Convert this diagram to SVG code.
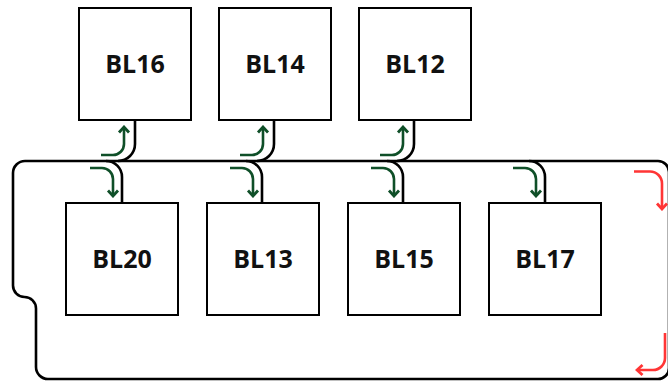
<svg xmlns="http://www.w3.org/2000/svg" width="668" height="381" viewBox="0 0 668 381">
  <style>
    .box { fill: #ffffff; stroke: #000000; stroke-width: 2; }
    .lbl { font-family: "Open Sans", "Noto Sans", "Liberation Sans", sans-serif; font-weight: bold; font-size: 25px; fill: #111111; text-anchor: middle; }
    .bus { fill: none; stroke: #000000; stroke-width: 2.6; }
    .go { fill: none; stroke: #0f4f28; stroke-width: 2.6; marker-end: url(#headG); }
    .back { fill: none; stroke: #ff3535; stroke-width: 2.6; marker-end: url(#headR); }
  </style>
  <defs>
    <marker id="headG" markerUnits="userSpaceOnUse" viewBox="-9 -7 11 14" markerWidth="11" markerHeight="14" refX="0" refY="0" orient="auto">
      <path d="M -5.5 -5 L 0 0 L -5.5 5" fill="none" stroke="#0f4f28" stroke-width="2.8"/>
    </marker>
    <marker id="headR" markerUnits="userSpaceOnUse" viewBox="-9 -7 11 14" markerWidth="11" markerHeight="14" refX="0" refY="0" orient="auto">
      <path d="M -5.5 -5 L 0 0 L -5.5 5" fill="none" stroke="#ff3535" stroke-width="2.8"/>
    </marker>
  </defs>

  <g id="connectors">
    <!-- ring bus -->
    <path class="bus" d="M 25 161 H 658 A 11 11 0 0 1 669 172 V 368 A 11 11 0 0 1 658 379 H 48 A 12 12 0 0 1 36 367 V 308.5 A 11.5 11.5 0 0 0 24.5 297 A 11.5 11.5 0 0 1 13 285.5 V 173 A 12 12 0 0 1 25 161 Z"/>
    <!-- taps from upper units into the bus -->
    <path class="bus" d="M 135 120 V 144 A 17 17 0 0 1 118 161"/>
    <path class="bus" d="M 274 120 V 144 A 17 17 0 0 1 257 161"/>
    <path class="bus" d="M 414 120 V 144 A 17 17 0 0 1 397 161"/>
    <!-- taps from the bus down to lower units -->
    <path class="bus" d="M 106 161 A 16 16 0 0 1 122 177 V 203"/>
    <path class="bus" d="M 246 161 A 16 16 0 0 1 262 177 V 203"/>
    <path class="bus" d="M 387 161 A 16 16 0 0 1 403 177 V 203"/>
    <path class="bus" d="M 529 161 A 16 16 0 0 1 545 177 V 203"/>
    <!-- flow arrows up -->
    <path class="go" d="M 101 155 H 113 A 11 11 0 0 0 124 144 V 127"/>
    <path class="go" d="M 240 155 H 252 A 11 11 0 0 0 263 144 V 127"/>
    <path class="go" d="M 380 155 H 392 A 11 11 0 0 0 403 144 V 127"/>
    <!-- flow arrows down -->
    <path class="go" d="M 90 168 H 102 A 11 11 0 0 1 113 179 V 196"/>
    <path class="go" d="M 230 168 H 242 A 11 11 0 0 1 253 179 V 196"/>
    <path class="go" d="M 371 168 H 383 A 11 11 0 0 1 394 179 V 196"/>
    <path class="go" d="M 513 168 H 525 A 11 11 0 0 1 536 179 V 196"/>
    <!-- return arrows -->
    <path class="back" d="M 634 171.5 H 650 A 12 12 0 0 1 662 183.5 V 209"/>
    <path class="back" d="M 665 333 V 358 A 12 12 0 0 1 653 370 H 637"/>
  </g>

  <g id="BL16"><rect class="box" x="79" y="8" width="112" height="112"/><text class="lbl" x="135" y="73">BL16</text></g>
  <g id="BL14"><rect class="box" x="219" y="8" width="112" height="112"/><text class="lbl" x="275" y="73">BL14</text></g>
  <g id="BL12"><rect class="box" x="359" y="8" width="112" height="112"/><text class="lbl" x="415" y="73">BL12</text></g>

  <g id="BL20"><rect class="box" x="66" y="203" width="112" height="112"/><text class="lbl" x="122" y="268">BL20</text></g>
  <g id="BL13"><rect class="box" x="207" y="203" width="112" height="112"/><text class="lbl" x="263" y="268">BL13</text></g>
  <g id="BL15"><rect class="box" x="348" y="203" width="112" height="112"/><text class="lbl" x="404" y="268">BL15</text></g>
  <g id="BL17"><rect class="box" x="489" y="203" width="112" height="112"/><text class="lbl" x="545" y="268">BL17</text></g>
</svg>
